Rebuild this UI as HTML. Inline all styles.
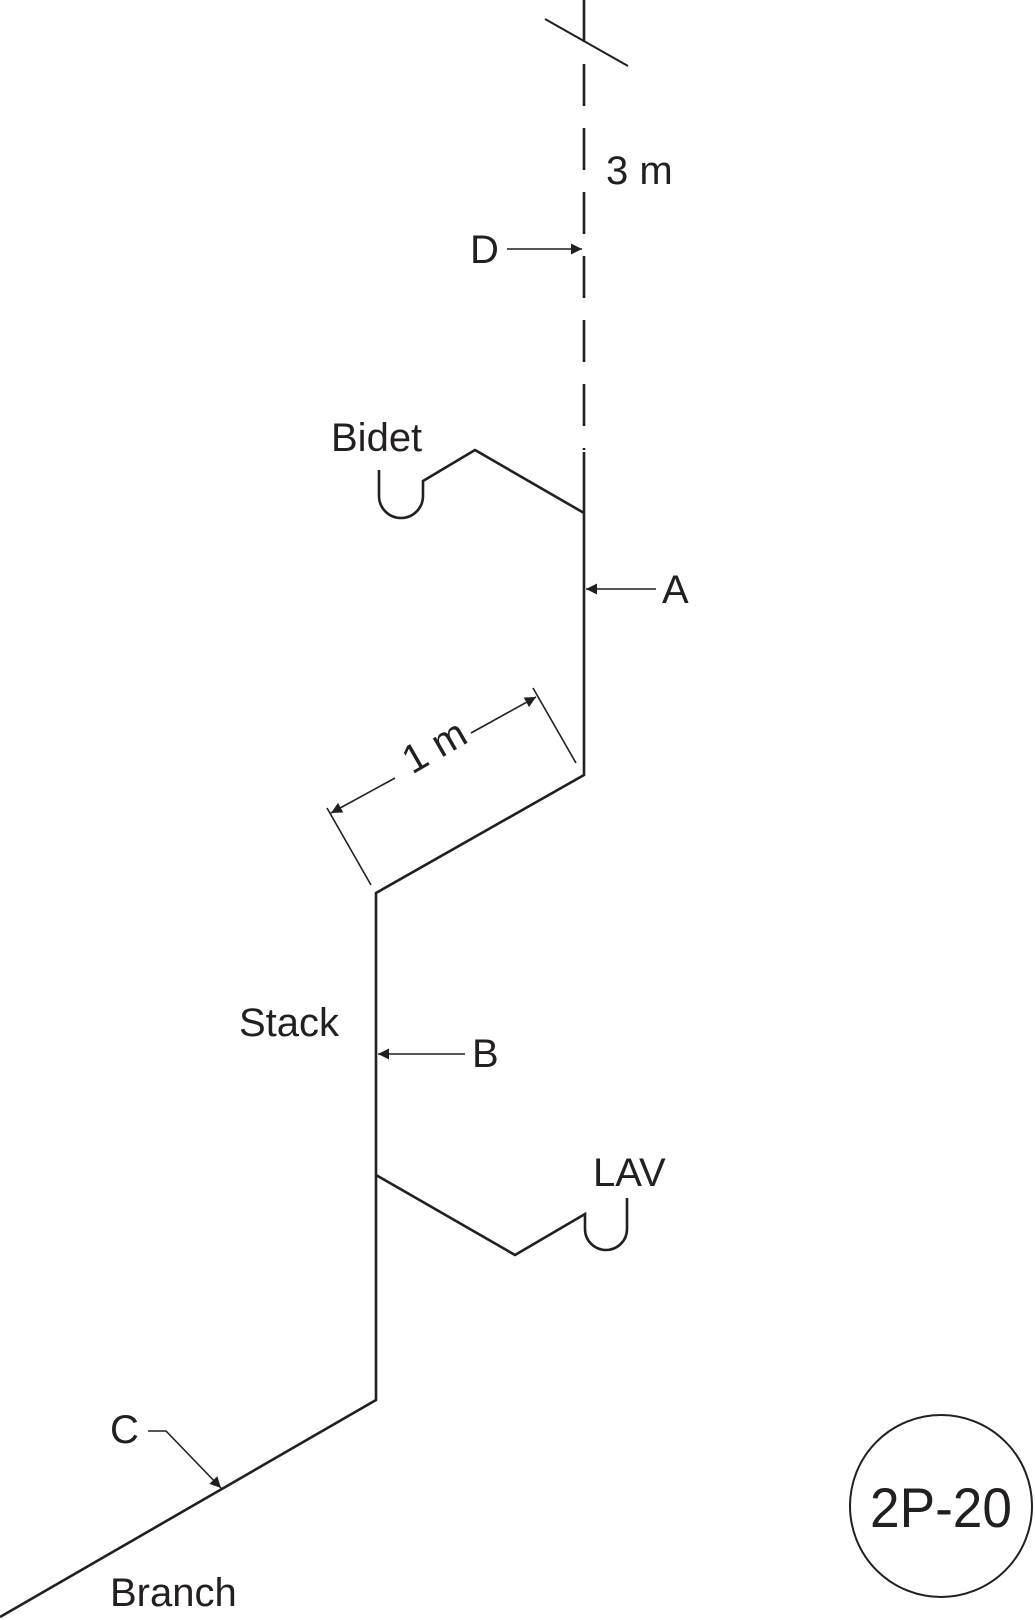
<!DOCTYPE html>
<html><head><style>
html,body{margin:0;padding:0;background:#fff;}
svg{display:block;}
text{font-family:"Liberation Sans",sans-serif;fill:#231f20;}
</style></head><body>
<svg width="1035" height="1620" viewBox="0 0 1035 1620" xmlns="http://www.w3.org/2000/svg">
<defs>
<marker id="ar" viewBox="0 0 10 10" refX="10" refY="5" markerWidth="20" markerHeight="11" markerUnits="userSpaceOnUse" orient="auto"><path d="M0,0 L10,5 L0,10 z" fill="#231f20"/></marker>
</defs>
<g stroke="#231f20" fill="none" stroke-width="2.6">
<line x1="584" y1="0" x2="584" y2="450" stroke-dasharray="42,22"/>
<line x1="545" y1="19" x2="628" y2="66" stroke-width="2"/>
<polyline points="584,452 584,775 376,893 376,1400 0,1617"/>
<path d="M379,470 L379,496 A22,22 0 0 0 423,496 L423,481 L475,450 L584,513"/>
<path d="M376,1175 L515,1255 L585,1214 L585,1229 A21,21 0 0 0 627,1229 L627,1198"/>
</g>
<g stroke="#231f20" fill="none" stroke-width="1.6">
<line x1="507" y1="249" x2="582" y2="249" marker-end="url(#ar)"/>
<line x1="656" y1="589" x2="586" y2="589" marker-end="url(#ar)"/>
<line x1="465" y1="1054" x2="378" y2="1054" marker-end="url(#ar)"/>
<polyline points="148,1431 166,1431 221,1488" marker-end="url(#ar)"/>
<line x1="533" y1="688" x2="576" y2="763"/>
<line x1="327" y1="808" x2="371" y2="885"/>
<line x1="471" y1="733" x2="536" y2="697" marker-end="url(#ar)"/>
<line x1="395" y1="778" x2="331" y2="813" marker-end="url(#ar)"/>
</g>
<g font-size="40">
<text x="606" y="184">3 m</text>
<text x="470" y="263">D</text>
<text x="331" y="451">Bidet</text>
<text x="662" y="603">A</text>
<text x="239" y="1036">Stack</text>
<text x="472" y="1067">B</text>
<text x="593" y="1186">LAV</text>
<text x="110" y="1443">C</text>
<text x="110" y="1606">Branch</text>
<text x="434" y="760" text-anchor="middle" transform="rotate(-30 434 746)">1 m</text>
</g>
<circle cx="941" cy="1506" r="91" fill="none" stroke="#231f20" stroke-width="2"/>
<text x="941" y="1527" font-size="56" text-anchor="middle" textLength="142" lengthAdjust="spacingAndGlyphs">2P-20</text>
</svg>
</body></html>
